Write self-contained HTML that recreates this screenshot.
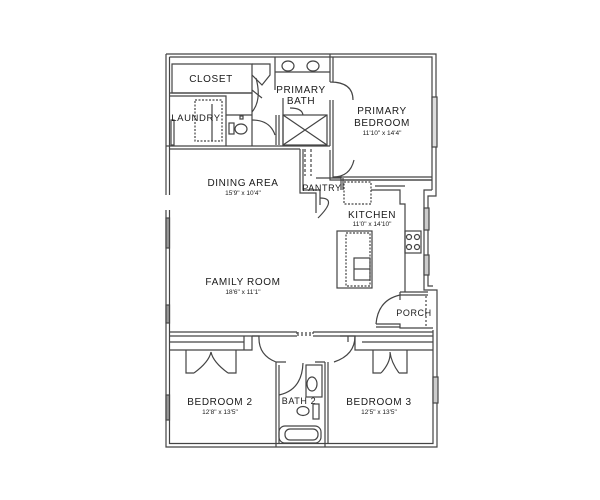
<!DOCTYPE html>
<html><head><meta charset="utf-8"><style>
html,body{margin:0;padding:0;background:#fff;}
svg{display:block}
text{font-family:"Liberation Sans",sans-serif;fill:#1a1a1a;text-anchor:middle}
.l{font-size:10px;letter-spacing:0.6px}
.d{font-size:6.5px}
</style></head><body>
<svg width="600" height="500" viewBox="0 0 600 500" xmlns="http://www.w3.org/2000/svg">
<g fill="none" stroke="#444" stroke-width="1.2">
<path d="M166,54 H436 V190"/>
<path d="M169.5,57 H432 V190"/>
<path d="M166,54 V195 M169.5,57 V195"/>
<path d="M166,210 V447 H437 V330 M169.5,210 V443.5 H433 V330"/>
<path d="M432,190 H424 V290 H437 V330 M436,190 V196 H428 V286 H433"/>
<path d="M172,64 H252 V93 H172 Z"/>
<path d="M169.5,93 H252 M169.5,96 H226 V115 H252"/>
<path d="M166,146 H330 M169.5,149 H300"/>
<path d="M226,115 V146 M252,93 V115 H252 M252,115 V146"/>
<path d="M195,100 H222 V141 H195 Z" stroke-dasharray="2,1.5"/>
<path d="M212,104 V141"/>
<ellipse cx="241" cy="129" rx="6" ry="5"/>
<rect x="229" y="123" width="5" height="11"/>
<rect x="240" y="116" width="3" height="3"/>
<path d="M252,64 H270 V75 L262,85 L252,75"/>
<path d="M256,78 Q262,100 252,112"/>
<path d="M275,57 V72 H330 M275,72 V90"/>
<ellipse cx="288" cy="66" rx="6" ry="5"/><ellipse cx="313" cy="66" rx="6" ry="5"/>
<path d="M252,90 L262,98 M283,98 V146"/>
<rect x="283" y="115" width="44" height="30"/>
<path d="M283,115 L327,145 M327,115 L283,145"/>
<path d="M290,108 Q302,108 303,115"/>
<path d="M276,115 V145 M279,115 V145"/>
<path d="M252,120 Q270,120 275,135"/>
<path d="M330,54 V82 M333,57 V82 M330,100 V146 M333,100 V150 M330,82 Q353,82 353,100"/>
<path d="M333,150 V177 H432 M330,150 V180 H432 M333,177 Q350,177 354,160"/>
<rect x="432" y="97" width="5" height="50" fill="#ddd"/>
<path d="M305,149 V176 M311,149 V176" stroke-dasharray="3,2"/>
<path d="M300,149 V193 H316 V213 M303,149 V190 H320 V205"/>
<path d="M320,198 Q338,198 318,218" />
<path d="M316,178 H341 V190 M343,178 V190 M343,180 H432"/>
<rect x="344" y="182" width="27" height="22" stroke-dasharray="2,1.5"/>
<path d="M371,190 H400 V204 H405 V292 M375,186 H405"/>
<rect x="337" y="231" width="35" height="57"/>
<rect x="346" y="233" width="24" height="53" stroke-dasharray="2,1.5"/>
<rect x="354" y="258" width="16" height="22"/>
<path d="M354,269 H370"/>
<rect x="405" y="231" width="16" height="22"/>
<circle cx="409" cy="237" r="2.5"/><circle cx="417" cy="237" r="2.5"/><circle cx="409" cy="247" r="2.5"/><circle cx="417" cy="247" r="2.5"/>
<rect x="424" y="208" width="5" height="22" fill="#ccc"/>
<rect x="424" y="255" width="5" height="20" fill="#ccc"/>
<path d="M400,292 H428 M400,295 H428 M400,292 V300"/>
<path d="M376,324 Q378,300 400,295"/>
<path d="M376,324 H400 V328 H433 M376,327 H400" />
<path d="M426,296 V328" stroke-dasharray="2,2"/>
<path d="M169.5,332 H297 M313,332 H433 M169.5,336 H297 M313,336 H433"/>
<path d="M297,332 V336 M313,332 V336 M297,333 H313 M297,335 H313" stroke-dasharray="2,2"/>
<path d="M169.5,342 H244 M169.5,350 H244 M244,336 V350 H252 V336"/>
<path d="M355,336 V350 H362 M362,342 H433 M362,350 H433 M348,336 V342"/>
<path d="M186,350 V373 H194 M236,350 V373 H228 M194,373 Q209,362 211,352 M228,373 Q213,362 211,352"/>
<path d="M373,350 V373 H381 M407,350 V373 H399 M381,373 Q391,362 390,352 M399,373 Q391,362 390,352"/>
<path d="M252,336 H259 Q258,355 276,362 M340,336 H355 Q355,355 334,362"/>
<path d="M276,362 V447 M279,365 V443 M325,362 V447 M328,362 V443 M276,362 H286 M325,362 H315"/>
<path d="M279,395 Q302,390 303,363"/>
<ellipse cx="312" cy="384" rx="5" ry="7"/>
<rect x="306" y="365" width="16" height="32"/>
<ellipse cx="303" cy="411" rx="6" ry="4.5"/>
<rect x="313" y="404" width="6" height="15"/>
<rect x="279" y="426" width="42" height="17" rx="6"/>
<rect x="285" y="429" width="33" height="11" rx="5"/>
<rect x="433" y="377" width="5" height="26" fill="#ccc"/>
<rect x="166" y="218" width="3.5" height="30" fill="#999"/>
<rect x="166" y="305" width="3.5" height="18" fill="#999"/>
<rect x="166" y="395" width="3.5" height="25" fill="#999"/>
<rect x="171" y="120" width="3" height="25"/>
</g>
<text class="l" x="211" y="82">CLOSET</text>
<text class="l" x="196" y="121" style="font-size:9.5px">LAUNDRY</text>
<text class="l" x="301" y="93">PRIMARY</text>
<text class="l" x="301" y="104">BATH</text>
<text class="l" x="382" y="114">PRIMARY</text>
<text class="l" x="382" y="126">BEDROOM</text>
<text class="d" x="382" y="135">11'10" x 14'4"</text>
<text class="l" x="243" y="186">DINING AREA</text>
<text class="d" x="243" y="195">15'9" x 10'4"</text>
<text class="l" x="322" y="191" style="font-size:9px">PANTRY</text>
<text class="l" x="372" y="218">KITCHEN</text>
<text class="d" x="372" y="226">11'0" x 14'10"</text>
<text class="l" x="243" y="285">FAMILY ROOM</text>
<text class="d" x="243" y="294">18'6" x 11'1"</text>
<text class="l" x="414" y="316" style="font-size:9px">PORCH</text>
<text class="l" x="220" y="405">BEDROOM 2</text>
<text class="d" x="220" y="414">12'8" x 13'5"</text>
<text class="l" x="299" y="404" style="font-size:9px">BATH 2</text>
<text class="l" x="379" y="405">BEDROOM 3</text>
<text class="d" x="379" y="414">12'5" x 13'5"</text>
</svg>
</body></html>
